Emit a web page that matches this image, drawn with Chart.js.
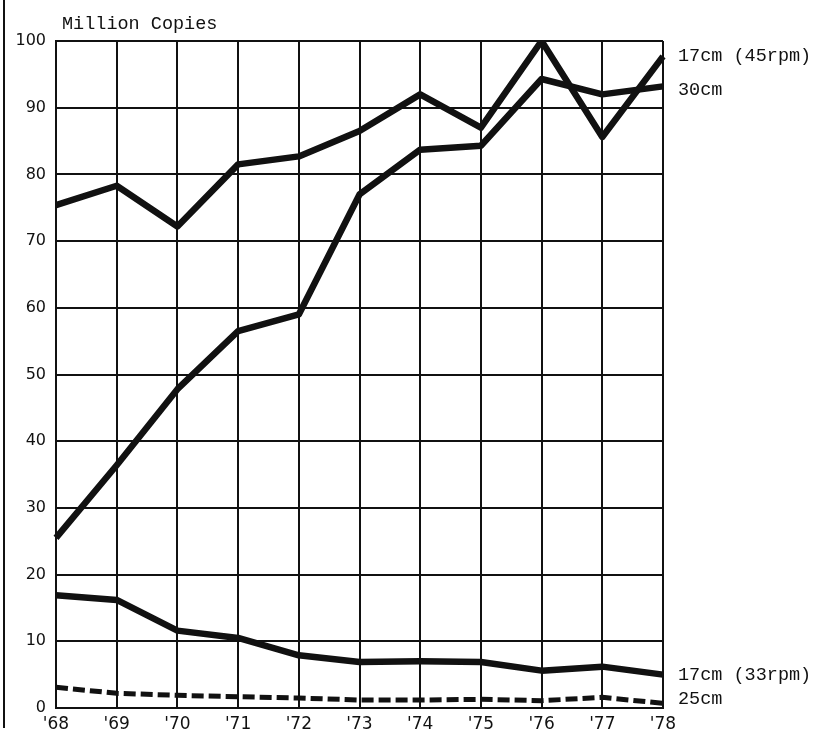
<!DOCTYPE html>
<html><head><meta charset="utf-8">
<script src="https://cdn.jsdelivr.net/npm/chart.js@4/dist/chart.umd.min.js"></script>
<style>
html,body{margin:0;padding:0;background:#fff}
#wrap{position:relative;width:825px;height:739px}
#edge{position:absolute;left:3px;top:0;width:2px;height:728px;background:#111}
</style></head>
<body><div id="wrap"><div id="edge"></div><canvas id="chart" width="825" height="739"></canvas></div>
<script>
/* record sales, million copies, 1968-78 */
const years=["'68","'69","'70","'71","'72","'73","'74","'75","'76","'77","'78"];
const s45=[75.4,78.3,72.2,81.5,82.7,86.5,92.0,87.0,100,85.6,97.7];
const s30=[25.5,36.4,47.8,56.5,59.0,77.0,83.7,84.3,94.3,92.0,93.2];
const s33=[16.9,16.2,11.6,10.5,7.9,6.9,7.0,6.9,5.6,6.2,5.0];
const s25=[3.1,2.2,1.9,1.7,1.5,1.2,1.2,1.3,1.1,1.6,0.7];
const names=["17cm (45rpm)","30cm","17cm (33rpm)","25cm"];
const labelShift=[0,4,0,-4];
const yTicks=[0,10,20,30,40,50,60,70,80,90,100];
const INK="#111";
const mono="'Liberation Mono','DejaVu Sans Mono',monospace";
const sans="'DejaVu Sans',sans-serif";

const endLabels={id:"endLabels",afterDatasetsDraw(c){
  const {ctx,chartArea:a}=c; ctx.save(); ctx.fillStyle=INK;
  ctx.font="18.5px "+mono; ctx.textBaseline="alphabetic"; ctx.textAlign="left";
  ctx.fillText("Million Copies",62,29);
  ctx.textBaseline="middle";
  c.data.datasets.forEach((d,i)=>{const m=c.getDatasetMeta(i).data.at(-1);
    ctx.fillText(names[i],a.right+15,m.y+labelShift[i]);});
  ctx.restore();}};

const ds=(data,dash,w)=>({data,borderColor:INK,borderWidth:w,borderDash:dash,pointRadius:0,tension:0,fill:false,borderCapStyle:"butt",borderJoinStyle:"round"});

new Chart(document.getElementById("chart"),{type:"line",
  data:{labels:years,datasets:[ds(s45,[],6.5),ds(s30,[],6.5),ds(s33,[],6.5),ds(s25,[12,5],5)]},
  options:{responsive:false,animation:false,
    layout:{padding:{left:0,right:162,top:41,bottom:0}},
    plugins:{legend:{display:false},tooltip:{enabled:false},title:{display:false}},
    scales:{
      x:{type:"category",offset:false,
        grid:{color:INK,lineWidth:2,drawTicks:false},border:{color:INK,width:2},
        ticks:{color:INK,padding:6,maxRotation:0,autoSkip:false,font:{family:sans,size:17}},
        afterFit:s=>{s.height=31}},
      y:{min:0,max:100,
        afterBuildTicks:s=>{s.ticks=yTicks.map(v=>({value:v}))},
        grid:{color:INK,lineWidth:2,drawTicks:false},border:{color:INK,width:2},
        ticks:{color:INK,padding:10,font:{family:sans,size:16}},
        afterFit:s=>{s.width=56}}
    }},
  plugins:[endLabels]});
</script>
</body></html>
